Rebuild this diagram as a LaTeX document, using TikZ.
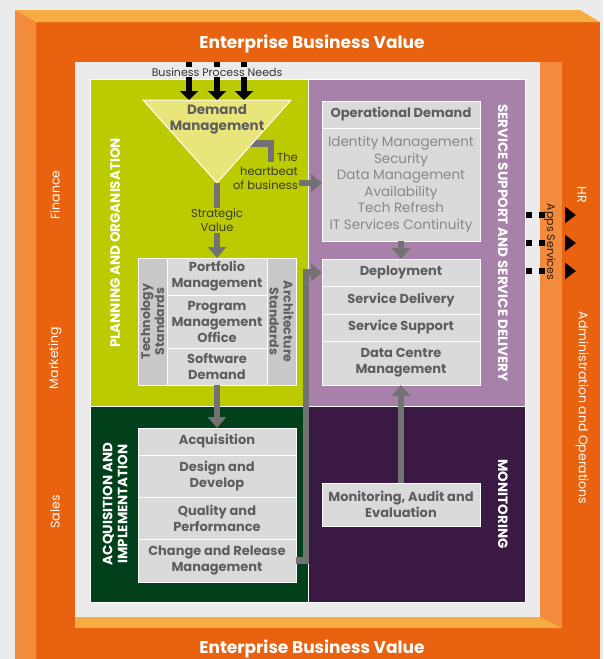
\documentclass[tikz,border=0pt]{standalone}
\usepackage{fontspec}
\setmainfont{Poppins}
\usetikzlibrary{positioning,calc,arrows.meta}

% palette
\definecolor{paper}{HTML}{EBEBEB}
\definecolor{frameface}{HTML}{E8620F}
\definecolor{frameside}{HTML}{F28C3C}
\definecolor{framelid}{HTML}{F7AC42}
\definecolor{lime}{HTML}{BCCA00}
\definecolor{forest}{HTML}{01401B}
\definecolor{mauve}{HTML}{A881AA}
\definecolor{plum}{HTML}{3A1A42}
\definecolor{cellgray}{HTML}{DADADB}
\definecolor{sidegray}{HTML}{C8C8C9}
\definecolor{ink}{HTML}{5E5E5E}
\definecolor{softink}{HTML}{888888}
\definecolor{noteink}{HTML}{3A3A32}
\definecolor{pipegray}{HTML}{727272}
\definecolor{funnelfill}{HTML}{E8E57B}
\definecolor{appsink}{HTML}{2E1E10}

\tikzset{
  panel/.style={draw=white, line width=1pt, anchor=north west, inner sep=0pt},
  cellbox/.style={draw=white, line width=1pt, fill=cellgray, text=ink, inner sep=0pt,
    outer sep=0pt, align=center, font=\bfseries\fontsize{13}{16}\selectfont},
  sidebox/.style={cellbox, fill=sidegray, font=\bfseries\fontsize{12.5}{14}\selectfont},
  band/.style={text=white, align=center, font=\bfseries\fontsize{13.5}{15}\selectfont},
  dept/.style={text=white, font=\fontsize{12.5}{14}\selectfont},
  note/.style={text=noteink, align=center, inner sep=1pt, font=\fontsize{11.5}{14}\selectfont},
  pipe/.style={draw=pipegray, line width=6.5pt, -{Triangle[width=18pt,length=11pt]}},
  need/.style={draw=black, line width=6pt, -{Triangle[width=18pt,length=9pt]}},
  feed/.style={draw=black, line width=6pt, dash pattern=on 6pt off 7pt on 6pt off 40pt,
    -{Triangle[width=16pt,length=11pt]}},
}

\begin{document}
\begin{tikzpicture}[x=1pt,y=-1pt]

  % canvas and frame
  \fill[paper] (0,0) rectangle (603,659);
  \useasboundingbox (0,0) rectangle (603,659);
  \fill[frameface] (36,22) rectangle (600,659);
  \fill[framelid] (15,10) -- (580,10) -- (600,22) -- (36,22) -- cycle;
  \fill[frameside] (15,10) -- (36,22) -- (36,659) -- (15,659) -- cycle;
  \fill[paper] (75,62) rectangle (540,617);
  \fill[frameside] (540,62) -- (562,62) -- (562,628) -- (540,617) -- cycle;
  \fill[framelid] (75,617) -- (540,617) -- (562,628) -- (75,628) -- cycle;

  \node[text=white, font=\bfseries\fontsize{17}{20}\selectfont] (ebvtop) at (312,44) {Enterprise Business Value};
  \node[text=white, font=\bfseries\fontsize{17}{20}\selectfont] (ebvbot) at (312,649) {Enterprise Business Value};

  % departments round the frame
  \node[dept, rotate=90] (fin) at (55,195) {Finance};
  \node[dept, rotate=90] (mkt) at (55,358) {Marketing};
  \node[dept, rotate=90] (sal) at (55,512) {Sales};
  \node[dept, rotate=-90] (hr) at (582,195) {HR};
  \node[dept, rotate=-90] (adm) at (582,408) {Administration and Operations};

  % four domains
  \node[panel, fill=lime, minimum width=218pt, minimum height=327pt] (po) at (90,79) {};
  \node[panel, fill=mauve, minimum width=217pt, minimum height=327pt] (ds) at (308,79) {};
  \node[panel, fill=forest, minimum width=218pt, minimum height=196pt] (ai) at (90,406) {};
  \node[panel, fill=plum, minimum width=217pt, minimum height=196pt] (me) at (308,406) {};

  \node[band, rotate=90] (polabel) at (115,243) {PLANNING AND ORGANISATION};
  \node[band, rotate=90] (ailabel) at (115,504) {ACQUISITION AND\\IMPLEMENTATION};
  \node[band, rotate=-90] (dslabel) at (503,243) {SERVICE SUPPORT AND SERVICE DELIVERY};
  \node[band, rotate=-90] (melabel) at (503,504) {MONITORING};

  % demand funnel
  \coordinate (fnw) at (143,100);
  \coordinate (fne) at (291,100);
  \coordinate (tip) at (217,183);
  \coordinate (beatout) at (245,143.5);
  \coordinate (beatdrop) at (271,162);
  \draw[draw=pipegray, line width=6.5pt] (beatout) -| (beatdrop);
  \draw[draw=white, line width=1pt, fill=funnelfill] (fnw) -- (fne) -- (tip) -- cycle;
  \node[cellbox, draw=none, fill=none, font=\bfseries\fontsize{13.5}{16}\selectfont] (demand) at (217,119) {Demand\\Management};

  \foreach \k/\x in {1/189,2/217,3/244}{
    \coordinate (need\k) at (\x,62);
    \draw[need] (need\k) -- (need\k |- fnw);
  }
  \node[note, fill=paper, text=black!80, font=\fontsize{11}{12}\selectfont] (bpn) at (217,72) {Business Process Needs};

  % portfolio stack
  \node[cellbox, anchor=north west, minimum width=100pt, minimum height=37pt] (port) at (167,258) {Portfolio\\Management};
  \node[cellbox, below=0pt of port, minimum width=100pt, minimum height=53pt] (pmo) {Program\\Management\\Office};
  \node[cellbox, below=0pt of pmo, minimum width=100pt, minimum height=37pt] (swd) {Software\\Demand};
  \node[sidebox, rotate=90, minimum width=127pt, minimum height=29pt] (tech) at ($(pmo.west)+(-14.5,0)$) {Technology\\Standards};
  \node[sidebox, rotate=-90, minimum width=127pt, minimum height=29pt] (arch) at ($(pmo.east)+(14.5,0)$) {Architecture\\Standards};

  % acquisition stack
  \node[cellbox, anchor=north west, minimum width=158pt, minimum height=27pt] (acq) at (138,428) {Acquisition};
  \node[cellbox, below=0pt of acq, minimum width=158pt, minimum height=42pt] (dev) {Design and\\Develop};
  \node[cellbox, below=0pt of dev, minimum width=158pt, minimum height=42pt] (qap) {Quality and\\Performance};
  \node[cellbox, below=0pt of qap, minimum width=158pt, minimum height=43pt] (crm) {Change and Release\\Management};

  % delivery stack
  \node[cellbox, anchor=north west, minimum width=158pt, minimum height=27pt, font=\bfseries\fontsize{13}{15}\selectfont] (opd) at (322,101) {Operational Demand};
  \node[cellbox, below=0pt of opd, minimum width=158pt, minimum height=113pt, text=softink, font=\fontsize{13.5}{16.5}\selectfont] (opdlist) {Identity Management\\Security\\Data Management\\Availability\\Tech Refresh\\IT Services Continuity};
  \node[cellbox, anchor=north west, minimum width=158pt, minimum height=27pt] (dep) at (322,259) {Deployment};
  \node[cellbox, below=0pt of dep, minimum width=158pt, minimum height=28pt] (sdl) {Service Delivery};
  \node[cellbox, below=0pt of sdl, minimum width=158pt, minimum height=27pt] (ssp) {Service Support};
  \node[cellbox, below=0pt of ssp, minimum width=158pt, minimum height=44pt] (dcm) {Data Centre\\Management};
  \node[cellbox, anchor=north west, minimum width=158pt, minimum height=43pt] (mae) at (322,483) {Monitoring, Audit and\\Evaluation};

  % flows
  \draw[pipe] (tip) -- node[note, fill=lime] (sv) {Strategic\\Value} (port.north);
  \node[note, anchor=east, align=right] (beat) at (299,171) {The\\heartbeat\\of business};
  \coordinate (beatin) at (299,183);
  \draw[pipe] (beatin) -- (beatin -| opdlist.west);
  \draw[pipe] (swd.south) -- (acq.north);
  \draw[pipe] (opdlist.south) -- (dep.north);
  \draw[pipe] (mae.north) -- (dcm.south);
  \draw[pipe] (crm.east) -- ++(10,0) |- (dep.west);

  % apps services out to the business
  \foreach \k/\y in {1/215,2/243,3/271}{
    \coordinate (app\k) at (576,\y);
    \draw[feed] (ds.east |- app\k) -- (app\k);
  }
  \node[rotate=-90, text=appsink, inner sep=0.5pt, font=\fontsize{11}{12}\selectfont] (apps) at (550,242) {Apps Services};

\end{tikzpicture}
\end{document}
